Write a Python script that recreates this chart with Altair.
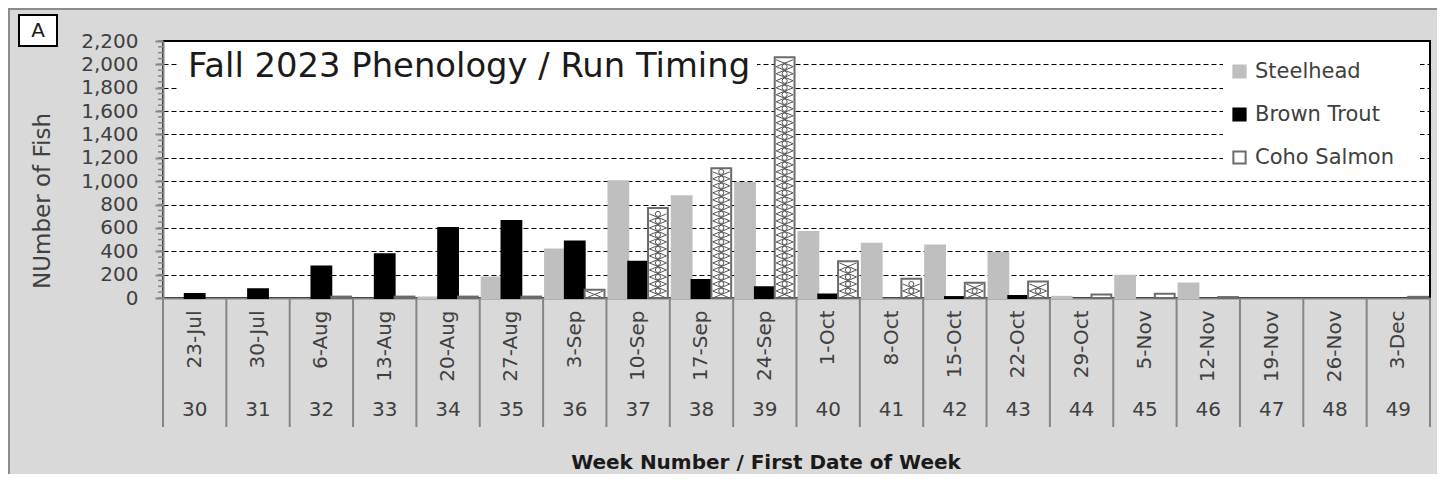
import altair as alt
import pandas as pd

# ---------------- data ----------------
weeks = [30, 31, 32, 33, 34, 35, 36, 37, 38, 39, 40, 41, 42, 43, 44, 45, 46, 47, 48, 49]
dates = ["23-Jul", "30-Jul", "6-Aug", "13-Aug", "20-Aug", "27-Aug", "3-Sep", "10-Sep",
         "17-Sep", "24-Sep", "1-Oct", "8-Oct", "15-Oct", "22-Oct", "29-Oct", "5-Nov",
         "12-Nov", "19-Nov", "26-Nov", "3-Dec"]
steelhead = [0, 0, 0, 0, 5, 175, 415, 1000, 870, 985, 565, 465, 450, 385, 10, 190, 125, 0, 0, 0]
brown_trout = [35, 75, 270, 375, 600, 660, 483, 311, 155, 91, 30, 0, 8, 18, 0, 0, 0, 0, 0, 0]
coho_salmon = [0, 0, 12, 12, 12, 12, 70, 770, 1110, 2060, 314, 165, 130, 142, 30, 36, 8, 0, 0, 10]
species = ["Steelhead", "Brown Trout", "Coho Salmon"]
y_ticks = [0, 200, 400, 600, 800, 1000, 1200, 1400, 1600, 1800, 2000, 2200]
minor_ticks = list(range(0, 2201, 50))

title_text = "Fall 2023 Phenology / Run Timing"
y_title = "NUmber of Fish"
x_title = "Week Number / First Date of Week"
panel_letter = "A"

# ---------------- styling ----------------
FONT = "DejaVu Sans"
W, H = 1267, 257
fills = ["#bfbfbf", "#000000", "#ffffff"]
strokes = ["#bfbfbf", "#000000", "#6b6b6b"]
AXIS_GRAY = "#868686"
LABEL = "#404040"

rows = []
for i, d in enumerate(dates):
    for sp, vals in zip(species, [steelhead, brown_trout, coho_salmon]):
        rows.append({"date": d, "week": weeks[i], "species": sp, "value": vals[i]})
df = pd.DataFrame(rows)
df_coho = pd.DataFrame({"date": dates, "species": "Coho Salmon", "coho": coho_salmon})
df_weeks = pd.DataFrame({"date": dates, "week": weeks})
df_minor = pd.DataFrame({"t": minor_ticks})
one = pd.DataFrame({"k": [0]})

xscale = alt.Scale(domain=dates, paddingInner=0, paddingOuter=0)
yscale = alt.Scale(domain=[0, 2200], nice=False)
xoff = alt.XOffset("species:N", scale=alt.Scale(domain=species, paddingInner=0, paddingOuter=0.1))

x_axis = alt.Axis(labelAngle=270, ticks=False, domainColor=AXIS_GRAY, domainWidth=2,
                  labelFont=FONT, labelFontSize=20, labelColor=LABEL, labelPadding=12,
                  grid=False, title=None)
y_axis = alt.Axis(values=y_ticks, labelExpr="format(datum.value, ',')", tickSize=8, tickWidth=2,
                  tickColor=AXIS_GRAY, domainColor=AXIS_GRAY, domainWidth=2, labelFont=FONT,
                  labelFontSize=20, labelColor=LABEL, labelPadding=17, grid=True,
                  gridColor="#000000", gridDash=[5, 3], gridWidth=1, title=None)


def X(field="date:N", **kw):
    return alt.X(field, scale=xscale, axis=x_axis, title=None, **kw)


def Y(field):
    return alt.Y(field, scale=yscale, axis=y_axis, title=None)


legend = alt.Legend(
    orient="none", legendX=1058, legendY=12, title=None,
    symbolType="square", symbolSize=150, symbolStrokeWidth=2,
    labelFont=FONT, labelFontSize=21, labelColor=LABEL, labelLimit=0,
    rowPadding=21, labelOffset=5, padding=8,
)

legend_bg = alt.Chart(one).mark_rect(fill="white").encode(
    x=alt.value(1060), x2=alt.value(1257), y=alt.value(10), y2=alt.value(131)
)

bars = alt.Chart(df).transform_filter("datum.value > 0").mark_bar(strokeWidth=2).encode(
    x=X(),
    xOffset=xoff,
    y=Y("value:Q"),
    fill=alt.Fill("species:N", scale=alt.Scale(domain=species, range=fills), legend=legend),
    stroke=alt.Stroke("species:N", scale=alt.Scale(domain=species, range=strokes), legend=legend),
)

# cross-hatch pattern inside the Coho Salmon bars
xpath = "M-1,-0.41L1,0.41M-1,0.41L1,-0.41"
hatch = alt.Chart(df_coho).transform_calculate(
    h="sequence(30, datum.coho - 25, 60)"
).transform_flatten(["h"]).mark_point(
    shape=xpath, size=290, filled=False, strokeWidth=1, color="#555555", opacity=1
).encode(x=X(), xOffset=xoff, y=Y("h:Q"))

rings = alt.Chart(df_coho).transform_calculate(
    h="sequence(60, datum.coho - 25, 60)"
).transform_flatten(["h"]).mark_point(
    shape="circle", size=26, filled=False, strokeWidth=1, color="#555555", opacity=1
).encode(x=X(), xOffset=xoff, y=Y("h:Q"))

minor = alt.Chart(df_minor).mark_rule(color=AXIS_GRAY, strokeWidth=1.5).encode(
    y=Y("t:Q"), x=alt.value(-5), x2=alt.value(0)
)

seps = alt.Chart(df_weeks).mark_rule(color=AXIS_GRAY, strokeWidth=2).encode(
    x=X(bandPosition=0), y=alt.value(H), y2=alt.value(H + 129),
)
right_sep = alt.Chart(one).mark_rule(color=AXIS_GRAY, strokeWidth=2).encode(
    x=alt.value(W), y=alt.value(H), y2=alt.value(H + 129)
)

week_text = alt.Chart(df_weeks).mark_text(font=FONT, fontSize=20, color=LABEL, baseline="middle").encode(
    x=X(), y=alt.value(369), text="week:N"
)

frame = alt.Chart(one).mark_rect(fillOpacity=0, stroke="#8c8c8c", strokeWidth=2).encode(
    x=alt.value(-154), x2=alt.value(W + 40), y=alt.value(-32), y2=alt.value(H + 300)
)

title_bg = alt.Chart(one).mark_rect(fill="white").encode(
    x=alt.value(14), x2=alt.value(594), y=alt.value(7), y2=alt.value(59)
)
title = alt.Chart(pd.DataFrame({"t": [title_text]})).mark_text(
    font=FONT, fontSize=33.8, color="#1a1a1a", align="left", baseline="alphabetic"
).encode(x=alt.value(25), y=alt.value(36), text="t:N")

a_box = alt.Chart(one).mark_rect(fill="white", stroke="#000000", strokeWidth=2).encode(
    x=alt.value(-144), x2=alt.value(-106), y=alt.value(-26), y2=alt.value(5)
)
a_text = alt.Chart(pd.DataFrame({"t": [panel_letter]})).mark_text(
    font=FONT, fontSize=20, color="#1a1a1a", align="center", baseline="middle"
).encode(x=alt.value(-125), y=alt.value(-10), text="t:N")

ytitle = alt.Chart(pd.DataFrame({"t": [y_title]})).mark_text(
    font=FONT, fontSize=23, color=LABEL, angle=270, align="center", baseline="middle"
).encode(x=alt.value(-120), y=alt.value(160), text="t:N")

xtitle = alt.Chart(pd.DataFrame({"t": [x_title]})).mark_text(
    font=FONT, fontSize=20, fontWeight="bold", color="#1a1a1a", align="center", baseline="middle"
).encode(x=alt.value(603), y=alt.value(421.5), text="t:N")

chart = alt.layer(
    legend_bg, bars, hatch, rings, minor, seps, right_sep, week_text, frame, title_bg, title,
    a_box, a_text, ytitle, xtitle
).properties(
    width=W, height=H,
    autosize=alt.AutoSizeParams(type="none"),
    padding={"left": 155, "top": 33, "right": 7, "bottom": 176},
).configure(background="#d9d9d9").configure_view(fill="white", stroke="#000000", strokeWidth=2)

chart.save("out.html", embed_options={"renderer": "svg", "actions": False})
